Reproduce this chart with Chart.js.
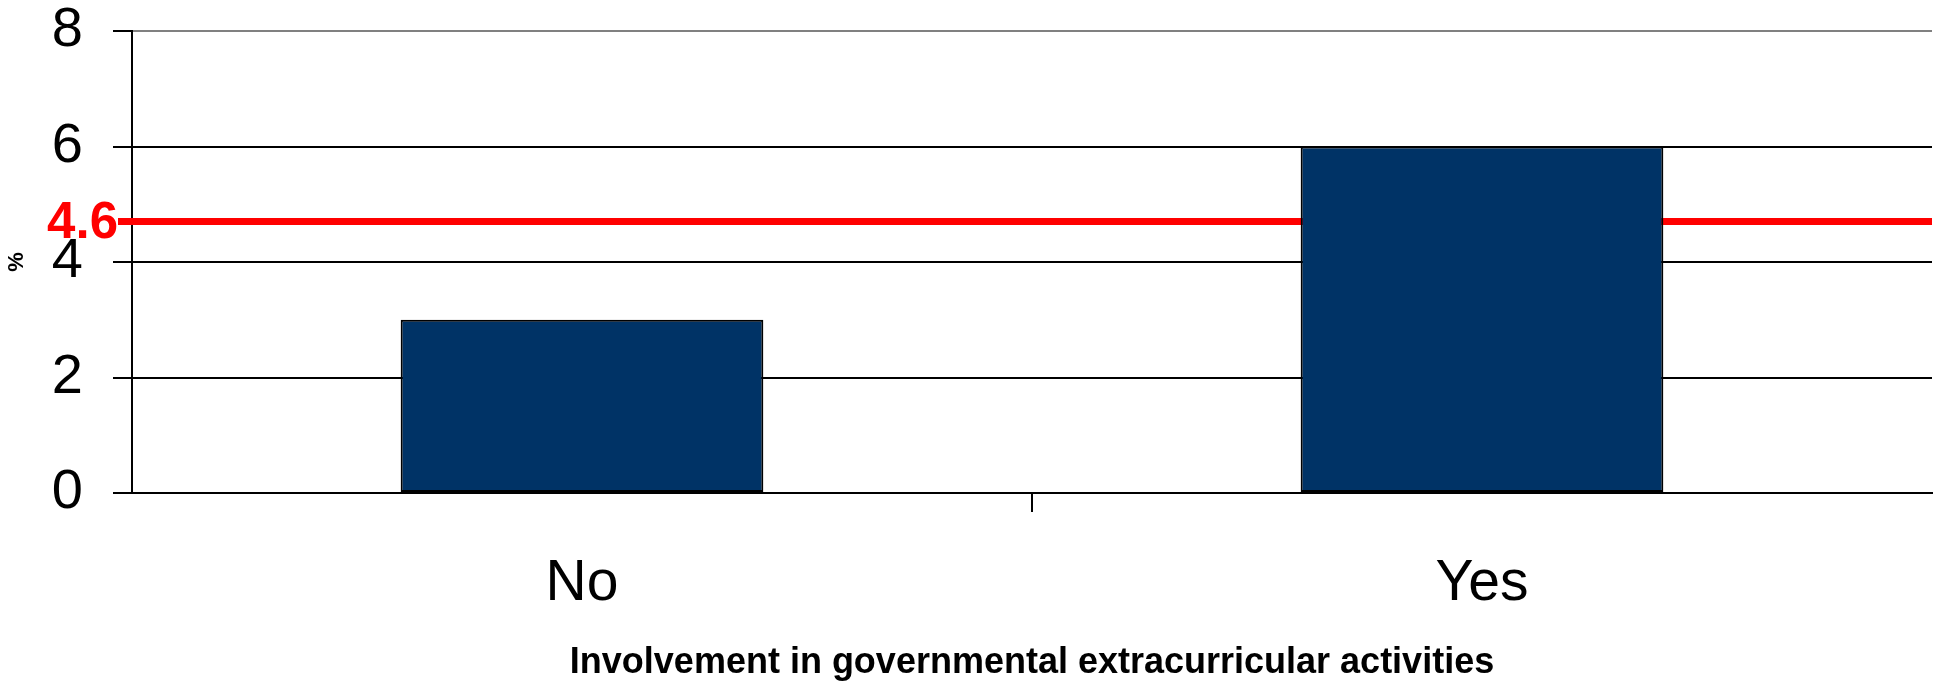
<!DOCTYPE html>
<html>
<head>
<meta charset="utf-8">
<script src="https://cdn.jsdelivr.net/npm/chart.js@4/dist/chart.umd.min.js"></script>
<style>
  html, body { margin: 0; padding: 0; background: #fff; }
  #wrap { width: 1941px; height: 685px; }
</style>
</head>
<body>
<div id="wrap"><canvas id="involvementChart"></canvas></div>
<script>
const categories = ['No', 'Yes'];
const percentValues = [3, 6];
const yTicks = [0, 2, 4, 6, 8];
const averageValue = 4.7;
const averageLabel = '4.6';

const FONT = '"Liberation Sans", Arial, sans-serif';

// red average line, drawn under the bars
const averageLine = {
  id: 'averageLine',
  beforeDatasetsDraw(chart) {
    const { ctx, chartArea, scales } = chart;
    const y = scales.y.getPixelForValue(averageValue);
    ctx.save();
    ctx.strokeStyle = '#ff0000';
    ctx.lineWidth = 7;
    ctx.beginPath();
    ctx.moveTo(chartArea.left - 14, y);
    ctx.lineTo(chartArea.right, y);
    ctx.stroke();
    ctx.fillStyle = '#ff0000';
    ctx.font = 'bold 51px ' + FONT;
    ctx.textAlign = 'right';
    ctx.textBaseline = 'middle';
    ctx.fillText(averageLabel, chartArea.left - 14, y + 2);
    ctx.restore();
  }
};

const config = {
  type: 'bar',
  data: {
    labels: categories,
    datasets: [
      {
        data: percentValues,
        backgroundColor: '#003366',
        borderColor: '#000000',
        borderWidth: 2,
        borderSkipped: false,
        categoryPercentage: 1,
        barPercentage: 0.403
      }
    ]
  },
  options: {
    responsive: true,
    maintainAspectRatio: false,
    animation: false,
    layout: {
      padding: { top: 0, right: 9, left: 0, bottom: 0 }
    },
    plugins: {
      legend: { display: false },
      tooltip: { enabled: false }
    },
    scales: {
      x: {
        grid: {
          drawOnChartArea: false,
          tickLength: 19,
          lineWidth: 2,
          color: (c) => (c.index === 1 ? '#000000' : 'rgba(0,0,0,0)')
        },
        border: { display: true, color: '#000000', width: 2 },
        ticks: {
          color: '#000000',
          padding: 38,
          font: { family: FONT, size: 57 }
        },
        title: {
          display: true,
          text: 'Involvement in governmental extracurricular activities',
          color: '#000000',
          font: { family: FONT, size: 36, weight: 'bold' },
          padding: { top: 0, bottom: 0 }
        },
        afterFit(scale) {
          scale.height = 192;
        }
      },
      y: {
        min: 0,
        max: 8,
        afterBuildTicks(scale) {
          scale.ticks = yTicks.map((v) => ({ value: v }));
        },
        grid: {
          lineWidth: 2,
          tickLength: 19,
          color: (c) => (c.tick && c.tick.value === 8 ? '#808080' : '#000000'),
          tickColor: '#000000'
        },
        border: { display: true, color: '#000000', width: 2 },
        ticks: {
          color: '#000000',
          padding: 30,
          font: { family: FONT, size: 56, lineHeight: 1 }
        },
        title: {
          display: true,
          text: '%',
          color: '#000000',
          font: { family: FONT, size: 22, weight: 'bold' },
          padding: { top: 4, bottom: 0 }
        },
        afterFit(scale) {
          scale.width = 132;
          // keep the tick padding from pushing the plot area down
          scale.paddingTop = 31;
          scale.paddingBottom = 0;
        }
      }
    }
  },
  plugins: [averageLine]
};

const chart = new Chart(document.getElementById('involvementChart'), config);
</script>
</body>
</html>
